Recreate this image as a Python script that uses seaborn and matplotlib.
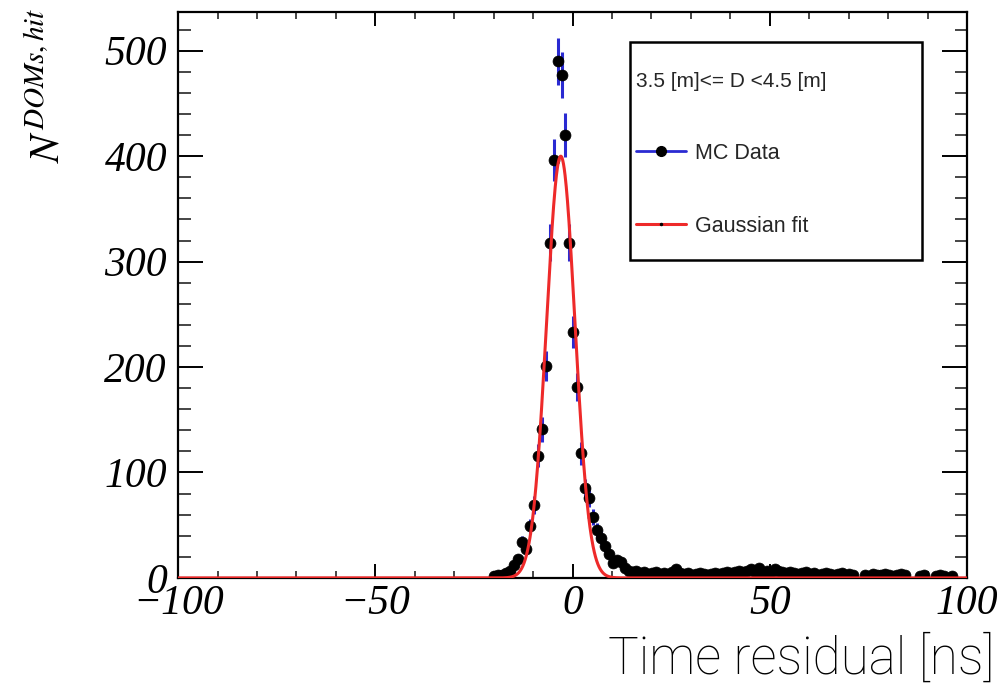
import numpy as np
import pandas as pd
import matplotlib
matplotlib.use("Agg")
import matplotlib.pyplot as plt
from matplotlib.lines import Line2D
from matplotlib.patches import Rectangle
from matplotlib.ticker import MultipleLocator
import seaborn as sns

# ---------------- data ----------------
bin_first_center = -19.8   # centre of the first filled bin [ns]
bin_width = 1.0            # ns
counts = [
    2, 3, 3, 5, 7, 12, 18, 34, 27, 49,          # -19.8 .. -10.8
    69, 116, 141, 201, 318, 396, 490, 477, 420, 318,  # -9.8 .. -0.8
    233, 181, 118, 85, 76, 58, 45, 38, 30, 23,  # 0.2 .. 9.2
    14, 17, 15, 9, 7, 6, 7, 5, 6, 4,            # 10.2 .. 19.2
    5, 6, 4, 5, 4, 6, 8, 5, 4, 5,               # 20.2 .. 29.2
    3, 4, 5, 4, 3, 4, 5, 4, 5, 6,               # 30.2 .. 39.2
    5, 6, 7, 6, 7, 8, 6, 9, 5, 7,               # 40.2 .. 49.2
    6, 8, 7, 6, 5, 6, 5, 4, 5, 6,               # 50.2 .. 59.2
    4, 5, 3, 4, 5, 4, 3, 4, 5, 3,               # 60.2 .. 69.2
    4, 3, 0, 0, 3, 2, 4, 3, 3, 4,               # 70.2 .. 79.2
    3, 2, 3, 4, 3, 0, 0, 0, 2, 3,               # 80.2 .. 89.2
    0, 0, 2, 3, 2, 0, 2,                        # 90.2 .. 96.2
]
fit_amplitude = 400.0
fit_mean = -3.0
fit_sigma = 3.6

x_ticks = [-100, -50, 0, 50, 100]
y_ticks = [0, 100, 200, 300, 400, 500]
legend_header = "3.5 [m]<= D <4.5 [m]"
legend_labels = ["MC Data", "Gaussian fit"]
x_label = "Time residual [ns]"
y_label = r"$N^{DOMs,hit}$"

# ---------------- frame ----------------
counts_arr = np.array(counts, dtype=float)
centers = bin_first_center + bin_width * np.arange(len(counts_arr))
df = pd.DataFrame({"t": centers, "n": counts_arr})
df = df[df["n"] > 0].copy()
df["err"] = np.sqrt(df["n"])

t_fit = np.linspace(-100, 100, 2001)
fit_df = pd.DataFrame({
    "t": t_fit,
    "f": fit_amplitude * np.exp(-0.5 * ((t_fit - fit_mean) / fit_sigma) ** 2),
})

# ---------------- style ----------------
sns.set_theme(style="ticks")
plt.rcParams["font.family"] = ["Liberation Serif", "DejaVu Serif"]
plt.rcParams["mathtext.fontset"] = "stix"

BLUE = "#2a2ad2"
RED = "#ee2a2a"

fig = plt.figure(figsize=(10.01, 6.88), dpi=100)
ax = fig.add_axes([0.178, 0.160, 0.788, 0.823])

ax.errorbar(df["t"], df["n"], yerr=df["err"], fmt="none", ecolor=BLUE,
            elinewidth=2.2, capsize=0, zorder=2)
sns.scatterplot(data=df, x="t", y="n", ax=ax, color="black", s=62,
                edgecolor="black", linewidth=0.5, zorder=3, legend=False)
sns.lineplot(data=fit_df, x="t", y="f", ax=ax, color=RED, linewidth=2.2,
             zorder=4, legend=False)

ax.set_xlim(-100, 100)
ax.set_ylim(0, 537)
ax.set_xticks(x_ticks)
ax.set_yticks(y_ticks)
ax.xaxis.set_minor_locator(MultipleLocator(10))
ax.yaxis.set_minor_locator(MultipleLocator(20))

for sp in ax.spines.values():
    sp.set_visible(True)
    sp.set_linewidth(1.6)
    sp.set_color("black")

ax.tick_params(axis="x", which="major", direction="in", length=10, width=1.4,
               top=True, bottom=True, labelsize=30, pad=5, colors="black")
ax.tick_params(axis="x", which="minor", direction="in", length=5, width=1.2,
               top=True, bottom=True)
ax.tick_params(axis="y", which="major", direction="in", length=18, width=1.4,
               left=True, right=True, labelsize=30, pad=8, colors="black")
ax.tick_params(axis="y", which="minor", direction="in", length=9, width=1.2,
               left=True, right=True)
for lab in ax.get_xticklabels() + ax.get_yticklabels():
    lab.set_fontstyle("italic")

ax.set_xlabel(x_label, fontsize=37, family=["Roboto", "DejaVu Sans"],
              fontweight="light", color="black")
ax.xaxis.set_label_coords(1.035, -0.145)
ax.xaxis.label.set_ha("right")
ax.xaxis.label.set_va("center")

ax.set_ylabel(y_label, fontsize=30, color="black")
ax.yaxis.set_label_coords(-0.165, 0.87)
ax.yaxis.label.set_va("center")

# legend frame + legend
ax.add_patch(Rectangle((0.573, 0.562), 0.37, 0.385, transform=ax.transAxes,
                       fill=True, facecolor="white", edgecolor="black",
                       linewidth=1.8, zorder=5))
handles = [
    Line2D([], [], color=BLUE, lw=2.0, marker="o", markersize=7,
           markerfacecolor="black", markeredgecolor="black"),
    Line2D([], [], color=RED, lw=2.2, marker="o", markersize=1.5,
           markerfacecolor="black", markeredgecolor="black"),
]
leg = ax.legend(handles=handles, labels=legend_labels, title=legend_header,
                loc="upper left", bbox_to_anchor=(0.5805, 0.893),
                frameon=False, borderpad=0, borderaxespad=0,
                prop={"family": ["Liberation Sans", "DejaVu Sans"], "size": 15.5},
                title_fontproperties={"family": ["Liberation Sans", "DejaVu Sans"],
                                      "size": 15},
                alignment="left", labelspacing=2.4, handlelength=2.3,
                handletextpad=0.45, numpoints=1)
leg.set_zorder(6)

fig.savefig("out.png", dpi=100)
